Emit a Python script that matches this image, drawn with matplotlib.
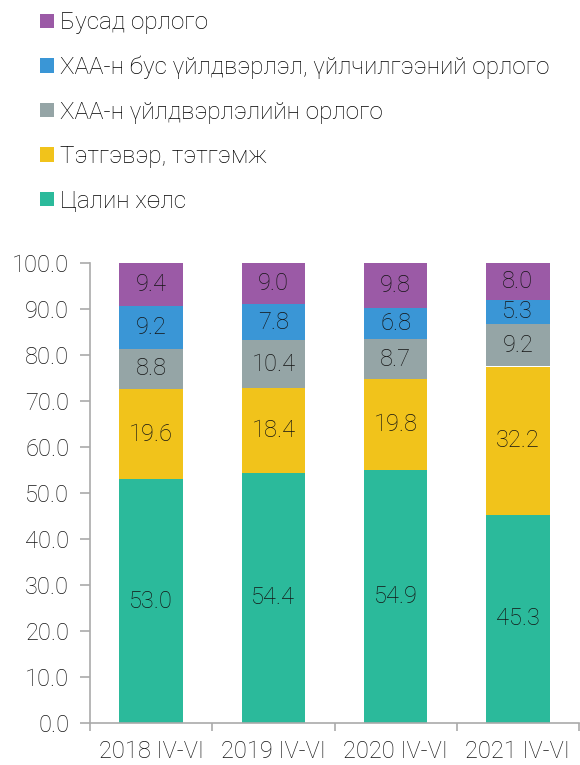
import matplotlib
matplotlib.use("Agg")
import matplotlib.pyplot as plt
from matplotlib.patches import Patch
import numpy as np

plt.rcParams['font.family'] = ['Roboto', 'DejaVu Sans']

categories = ["2018 IV-VI", "2019 IV-VI", "2020 IV-VI", "2021 IV-VI"]
series_names = ["Цалин хөлс", "Тэтгэвэр, тэтгэмж", "ХАА-н үйлдвэрлэлийн орлого",
                "ХАА-н бус үйлдвэрлэл, үйлчилгээний орлого", "Бусад орлого"]
salary = [53.0, 54.4, 54.9, 45.3]
pension = [19.6, 18.4, 19.8, 32.2]
agri = [8.8, 10.4, 8.7, 9.2]
nonagri = [9.2, 7.8, 6.8, 5.3]
other = [9.4, 9.0, 9.8, 8.0]
yticks = [0, 10, 20, 30, 40, 50, 60, 70, 80, 90, 100]

colors = ["#2BBA9B", "#F1C31B", "#95A5A6", "#3A96D6", "#9B5AA6"]
values = [salary, pension, agri, nonagri, other]
FS = 17
TXT = '#141414'

fig = plt.figure(figsize=(5.8, 7.65), dpi=100)
ax = fig.add_axes([90/580, 42/765, 489/580, 460/765])

x = np.arange(len(categories))
bottom = np.zeros(len(categories))
for name, vals, c in zip(series_names, values, colors):
    vals = np.array(vals)
    ax.bar(x, vals, 0.52, bottom=bottom, color=c, label=name, linewidth=0)
    for xi, b, v in zip(x, bottom, vals):
        ax.text(xi, b + v / 2, f"{v:.1f}", ha='center', va='center',
                fontsize=FS, color=TXT, fontweight='light')
    bottom += vals

ax.set_xlim(-0.5, 3.5)
ax.set_ylim(0, 100)
ax.set_yticks(yticks)
ax.set_yticklabels([f"{v:.1f}" for v in yticks], fontsize=FS, color=TXT, fontweight='light')
ax.set_xticks(x)
ax.set_xticklabels(categories, fontsize=FS, color=TXT, fontweight='light')
ax.set_xticks(np.arange(-0.5, 4.0, 1.0), minor=True)
ax.tick_params(axis='x', which='major', length=0, pad=12)
ax.tick_params(axis='x', which='minor', length=6, color='#AAAAAA', width=1.2)
ax.tick_params(axis='y', length=7, color='#AAAAAA', width=1.2, pad=8)
for s in ['top', 'right']:
    ax.spines[s].set_visible(False)
for s in ['left', 'bottom']:
    ax.spines[s].set_color('#AAAAAA')
    ax.spines[s].set_linewidth(1.2)

handles = [Patch(facecolor=c, edgecolor='none') for c in colors][::-1]
labels = series_names[::-1]
fig.legend(handles, labels, loc='upper left', bbox_to_anchor=(21/580, 1 + 8/765),
           frameon=False, prop={'size': 17.5, 'weight': 'light'},
           handlelength=0.55, handleheight=0.55, handletextpad=0.25,
           labelspacing=0.88, borderpad=0.3)

fig.savefig("out.png", dpi=100)
